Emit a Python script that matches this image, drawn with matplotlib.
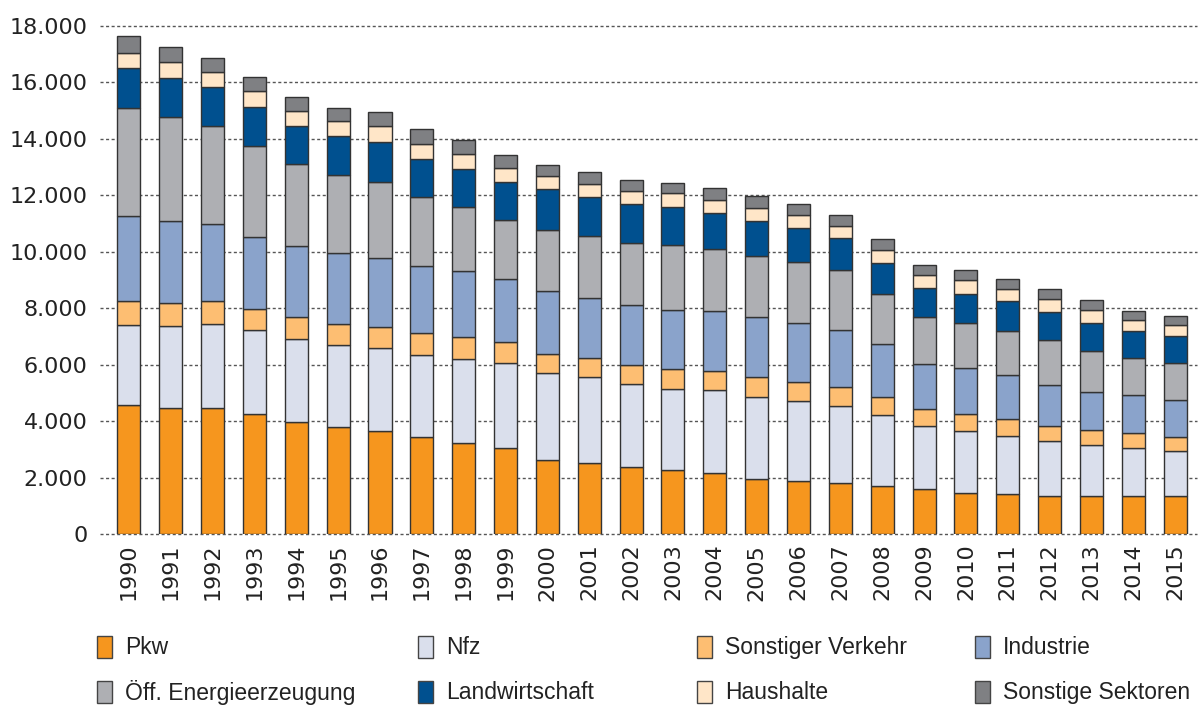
import matplotlib
matplotlib.use("Agg")
import matplotlib.pyplot as plt
from matplotlib.patches import Rectangle
from matplotlib.ticker import FuncFormatter
import numpy as np

years = list(range(1990, 2016))

pkw = [4560, 4450, 4450, 4240, 3960, 3780, 3650, 3440, 3240, 3060, 2610, 2510, 2380,
       2270, 2160, 1960, 1890, 1800, 1690, 1580, 1460, 1410, 1350, 1340, 1350, 1350]
nfz = [2860, 2930, 2990, 2980, 2950, 2910, 2930, 2910, 2970, 2990, 3100, 3040, 2930,
       2870, 2930, 2890, 2810, 2730, 2520, 2260, 2190, 2070, 1930, 1800, 1710, 1600]
sonst_verkehr = [830, 800, 810, 750, 770, 750, 760, 760, 770, 740, 680, 670, 670,
                 700, 690, 700, 700, 670, 630, 600, 610, 580, 560, 530, 510, 500]
industrie = [3030, 2910, 2720, 2550, 2510, 2530, 2430, 2380, 2340, 2240, 2210, 2140, 2150,
             2110, 2110, 2130, 2090, 2030, 1880, 1590, 1610, 1570, 1450, 1360, 1350, 1310]
energie = [3810, 3680, 3490, 3230, 2910, 2760, 2690, 2440, 2250, 2090, 2160, 2200, 2170,
           2280, 2200, 2180, 2160, 2110, 1800, 1650, 1600, 1550, 1570, 1450, 1320, 1310]
landwirtschaft = [1410, 1380, 1380, 1370, 1360, 1370, 1420, 1370, 1360, 1350, 1450, 1370, 1380,
                  1350, 1300, 1220, 1190, 1140, 1080, 1040, 1050, 1070, 1000, 1010, 940, 930]
haushalte = [560, 570, 540, 570, 540, 530, 570, 530, 530, 490, 470, 480, 460,
             490, 460, 470, 450, 420, 470, 450, 480, 420, 460, 440, 410, 390]
sonst_sektoren = [590, 540, 490, 490, 470, 480, 490, 510, 500, 470, 390, 410, 390,
                  370, 400, 430, 390, 390, 380, 370, 360, 360, 350, 350, 320, 340]

series_names = ["Pkw", "Nfz", "Sonstiger Verkehr", "Industrie",
                "Öff. Energieerzeugung", "Landwirtschaft", "Haushalte", "Sonstige Sektoren"]
series_values = [pkw, nfz, sonst_verkehr, industrie, energie, landwirtschaft,
                 haushalte, sonst_sektoren]
colors = ["#F6961E", "#DADFEC", "#FDBE72", "#8AA3CB",
          "#AEAFB3", "#00508F", "#FFE6C8", "#7F8083"]

y_ticks = [0, 2000, 4000, 6000, 8000, 10000, 12000, 14000, 16000, 18000]

W, H = 1202, 707
fig = plt.figure(figsize=(W / 100, H / 100), dpi=100)
ax = fig.add_axes([100 / W, 1 - 534 / H, (1197 - 100) / W, (534 - 26) / H])

bottom = np.zeros(len(years))
for vals, col, name in zip(series_values, colors, series_names):
    v = np.array(vals, dtype=float)
    ax.bar(years, v, bottom=bottom, width=0.55, color=col, edgecolor="#333333",
           linewidth=1.0, label=name, zorder=3)
    bottom += v

ax.set_xlim(1989.31, 2015.52)
ax.set_ylim(0, 18000)
ax.set_yticks(y_ticks)
ax.yaxis.set_major_formatter(FuncFormatter(lambda v, p: f"{int(v):,}".replace(",", ".")))
ax.set_xticks(years)
ax.set_xticklabels([str(y) for y in years], rotation=90, fontsize=16, color="#222222")
ax.tick_params(axis="y", length=0, pad=9, labelsize=16, labelcolor="#222222")
ax.tick_params(axis="x", length=0, pad=7)
for s in ax.spines.values():
    s.set_visible(False)
ax.grid(axis="y", color="#555555", linewidth=1.0, linestyle=(0, (2.2, 1.8)), zorder=0)
ax.grid(axis="x", visible=False)
ax.set_axisbelow(True)
for gl in ax.get_ygridlines():
    gl.set_clip_on(False)

# legend (manual layout)
col_x = [97, 418, 697, 975]
row_y = [636, 681]
for i, (name, col) in enumerate(zip(series_names, colors)):
    r, c = divmod(i, 4)
    x0, y0 = col_x[c], row_y[r]
    fig.add_artist(Rectangle((x0 / W, 1 - (y0 + 22) / H), 15 / W, 22 / H,
                             transform=fig.transFigure, facecolor=col,
                             edgecolor="#444444", linewidth=1.0))
    fig.text((x0 + 28) / W, 1 - (y0 + 11.5) / H, name, fontsize=16.5,
             family=["Liberation Sans", "DejaVu Sans"], color="#222222",
             va="center", ha="left")

fig.savefig("out.png", dpi=100)
